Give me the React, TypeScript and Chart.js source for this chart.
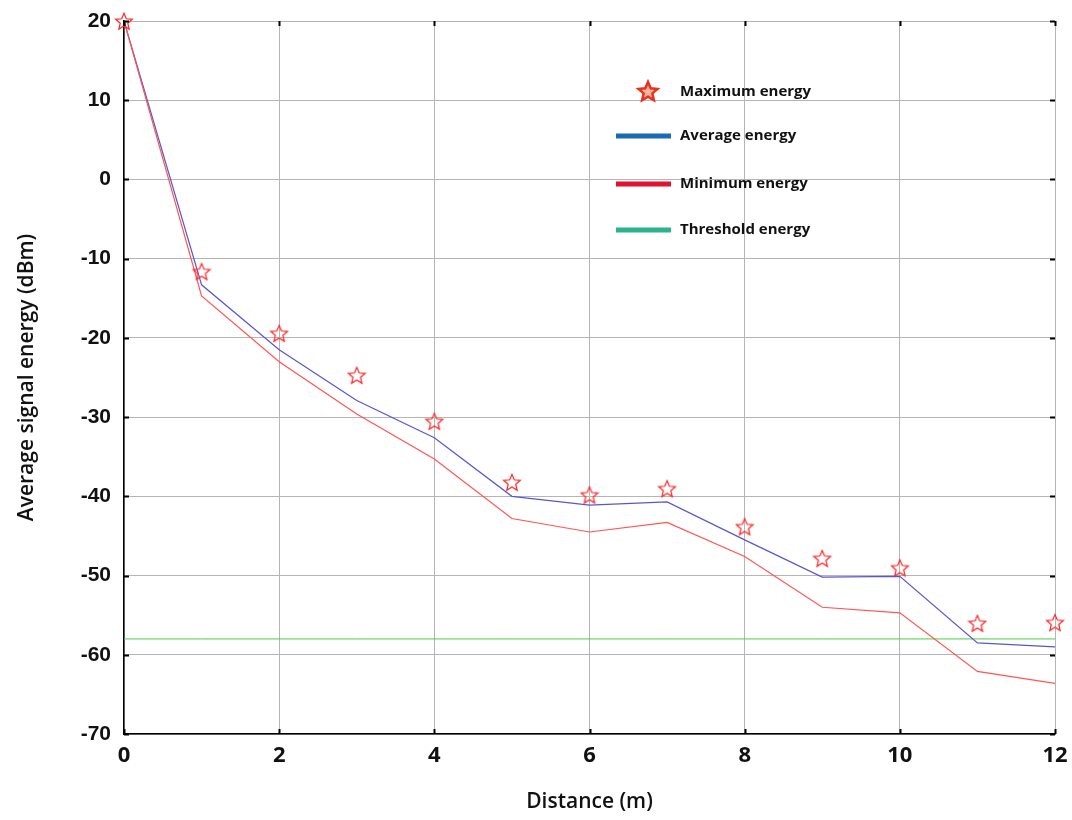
import React, { useEffect, useRef } from "react";
import { Chart, registerables } from "chart.js";

Chart.register(...registerables);

const distances = [0, 1, 2, 3, 4, 5, 6, 7, 8, 9, 10, 11, 12];
const maxEnergy = [20, -11.6, -19.4, -24.7, -30.5, -38.2, -39.8, -39.0, -43.8, -47.8, -49.0, -56.0, -55.9];
const avgEnergy = [20, -13.3, -21.5, -27.9, -32.6, -40.0, -41.1, -40.7, -45.5, -50.2, -50.1, -58.5, -59.0];
const minEnergy = [20, -14.7, -23.0, -29.6, -35.3, -42.8, -44.5, -43.3, -47.6, -54.0, -54.7, -62.1, -63.6];
const thresholdEnergy = -58;

const xTicks = [0, 2, 4, 6, 8, 10, 12];
const yTicks = [20, 10, 0, -10, -20, -30, -40, -50, -60, -70];

const legendLabels = ["Maximum energy", "Average energy", "Minimum energy", "Threshold energy"];

function starPath(ctx: CanvasRenderingContext2D, cx: number, cy: number, rOut: number, rIn: number) {
  ctx.beginPath();
  for (let i = 0; i < 10; i++) {
    const r = i % 2 === 0 ? rOut : rIn;
    const a = -Math.PI / 2 + (i * Math.PI) / 5;
    const x = cx + r * Math.cos(a);
    const y = cy + r * Math.sin(a);
    if (i === 0) ctx.moveTo(x, y);
    else ctx.lineTo(x, y);
  }
  ctx.closePath();
}

function makeStar(size: number, stroke: string, fill: string | null, lw: number) {
  const c = document.createElement("canvas");
  c.width = size;
  c.height = size;
  const ctx = c.getContext("2d")!;
  const r = size / 2 - lw;
  starPath(ctx, size / 2, size / 2 + 1, r, r * 0.45);
  if (fill) {
    ctx.fillStyle = fill;
    ctx.fill();
  }
  ctx.strokeStyle = stroke;
  ctx.lineWidth = lw;
  ctx.stroke();
  return c;
}

export default function App() {
  const ref = useRef<HTMLCanvasElement | null>(null);

  useEffect(() => {
    if (!ref.current) return;
    const starImg = makeStar(20, "#ff2626", null, 1.2);

    const frameTicks = {
      id: "frameTicks",
      afterDraw(chart: any) {
        const { ctx, chartArea } = chart;
        const xs = chart.scales.x;
        const ys = chart.scales.y;
        const L = 5;
        ctx.save();
        ctx.strokeStyle = "#000";
        ctx.lineWidth = 2;
        ctx.beginPath();
        xTicks.forEach((v) => {
          const px = Math.round(xs.getPixelForValue(v)) + 0.5;
          ctx.moveTo(px, chartArea.bottom);
          ctx.lineTo(px, chartArea.bottom - L);
          ctx.moveTo(px, chartArea.top);
          ctx.lineTo(px, chartArea.top + L);
        });
        yTicks.forEach((v) => {
          const py = Math.round(ys.getPixelForValue(v)) + 0.5;
          ctx.moveTo(chartArea.left, py);
          ctx.lineTo(chartArea.left + L, py);
          ctx.moveTo(chartArea.right, py);
          ctx.lineTo(chartArea.right - L, py);
        });
        ctx.stroke();

        // legend
        const lx = chartArea.left + 492;
        const ly = chartArea.top + 71;
        const gap = [0, 44, 92, 138];
        ctx.font = "bold 15px 'Open Sans'";
        ctx.textBaseline = "middle";
        ctx.textAlign = "left";
        starPath(ctx, lx + 32, ly, 10, 4.6);
        ctx.fillStyle = "#f7b39e";
        ctx.fill();
        ctx.strokeStyle = "#e8321e";
        ctx.lineWidth = 2.5;
        ctx.stroke();
        const cols = ["#1a6bb5", "#e3102f", "#2bb38c"];
        for (let i = 1; i < 4; i++) {
          ctx.strokeStyle = cols[i - 1];
          ctx.lineWidth = 5;
          ctx.beginPath();
          ctx.moveTo(lx, ly + gap[i]);
          ctx.lineTo(lx + 55, ly + gap[i]);
          ctx.stroke();
        }
        ctx.fillStyle = "#111";
        for (let i = 0; i < 4; i++) {
          ctx.fillText(legendLabels[i], lx + 64, ly + gap[i]);
        }
        ctx.restore();
      },
    };

    const chart = new Chart(ref.current, {
      type: "line",
      data: {
        labels: distances,
        datasets: [
          {
            label: "Threshold energy",
            data: distances.map((d) => ({ x: d, y: thresholdEnergy })),
            borderColor: "#4ccc4c",
            borderWidth: 1,
            pointRadius: 0,
            order: 4,
          },
          {
            label: "Average energy",
            data: distances.map((d, i) => ({ x: d, y: avgEnergy[i] })),
            borderColor: "#5a55cf",
            borderWidth: 1.2,
            pointRadius: 0,
            order: 3,
          },
          {
            label: "Minimum energy",
            data: distances.map((d, i) => ({ x: d, y: minEnergy[i] })),
            borderColor: "#ff5555",
            borderWidth: 1.2,
            pointRadius: 0,
            order: 2,
          },
          {
            label: "Maximum energy",
            data: distances.map((d, i) => ({ x: d, y: maxEnergy[i] })),
            showLine: false,
            pointStyle: starImg as any,
            pointRadius: 10,
            borderColor: "#ff2626",
            backgroundColor: "rgba(0,0,0,0)",
            clip: false,
            order: 1,
          },
        ],
      },
      options: {
        responsive: false,
        animation: false,
        layout: { padding: { top: 21, right: 17, left: 0, bottom: 0 } },
        plugins: { legend: { display: false }, tooltip: { enabled: false } },
        scales: {
          x: {
            type: "linear",
            min: 0,
            max: 12,
            afterFit: (s: any) => {
              s.height = 86;
              s.paddingLeft = 0;
              s.paddingRight = 0;
            },
            afterBuildTicks: (s: any) => {
              s.ticks = xTicks.map((v) => ({ value: v }));
            },
            grid: { color: "#b5b5b5", lineWidth: 1, drawTicks: false },
            border: { display: true, color: "#000", width: 1.5 },
            ticks: {
              padding: 9,
              color: "#111",
              font: { family: "'Open Sans'", size: 22, weight: "bold" },
              maxRotation: 0,
            },
            title: {
              display: true,
              text: "Distance (m)",
              color: "#111",
              font: { family: "'Open Sans'", size: 21, weight: "600" },
              padding: { top: 0, bottom: 5 },
            },
          },
          y: {
            min: -70,
            max: 20,
            afterFit: (s: any) => {
              s.width = 124;
              s.paddingTop = 0;
              s.paddingBottom = 0;
            },
            afterBuildTicks: (s: any) => {
              s.ticks = yTicks.map((v) => ({ value: v }));
            },
            grid: { color: "#b5b5b5", lineWidth: 1, drawTicks: false },
            border: { display: true, color: "#000", width: 1.5 },
            ticks: {
              padding: 13,
              color: "#111",
              font: { family: "'Liberation Sans'", size: 21, weight: "bold" },
            },
            title: {
              display: true,
              text: "Average signal energy (dBm)",
              color: "#111",
              font: { family: "'Open Sans'", size: 21, weight: "600" },
              padding: { top: 14, bottom: 0 },
            },
          },
        },
      },
      plugins: [frameTicks],
    } as any);

    return () => chart.destroy();
  }, []);

  return (
    <div style={{ position: "absolute", left: 0, top: 0, width: 1072, height: 820, background: "#fff" }}>
      <canvas ref={ref} width={1072} height={820} />
    </div>
  );
}
